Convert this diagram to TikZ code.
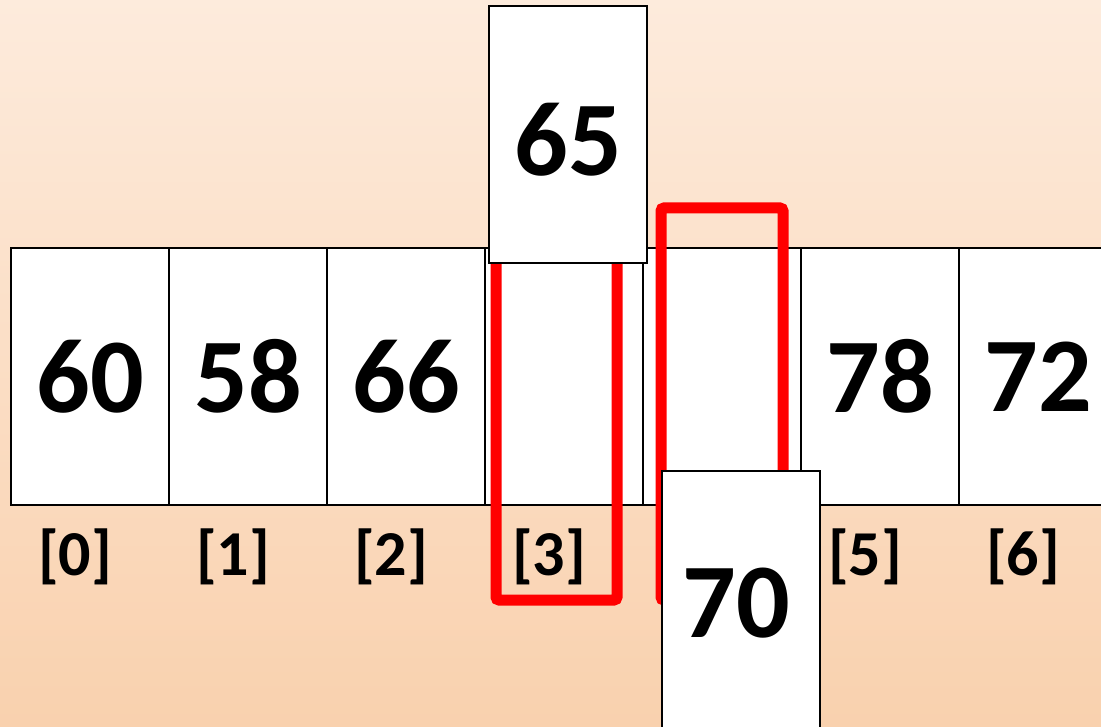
\documentclass[tikz,border=0pt]{standalone}
\usepackage{fontspec}
\setmainfont{Carlito}
\definecolor{peachtop}{RGB}{253,235,220}
\definecolor{peachbot}{RGB}{249,209,174}
\definecolor{slotred}{RGB}{255,0,0}

\begin{document}
\begin{tikzpicture}[x=1pt, y=-1pt,
cell/.style={draw=black, fill=white, line width=1.6pt, inner sep=0pt,
minimum width=158pt, minimum height=257pt,
font=\fontsize{106}{106}\selectfont\bfseries},
card/.style={cell, line width=2pt},
idx/.style={inner sep=0pt, font=\fontsize{64}{64}\selectfont\bfseries},
hilite/.style={draw=slotred, line width=11pt, rounded corners=3pt}
]

\useasboundingbox (0,0) rectangle (1101,727);
\clip (0,0) rectangle (1101,727);
\fill[top color=peachtop, bottom color=peachbot] (0,0) rectangle (1101,727);

% array slots
\node[cell] (c0) at (90,376.5) {60};
\node[cell] (c1) at (248,376.5) {58};
\node[cell] (c2) at (406,376.5) {66};
\node[cell] (c3) at (564,376.5) {};
\node[cell] (c4) at (722,376.5) {};
\node[cell] (c5) at (880,376.5) {78};
\node[cell] (c6) at (1038,376.5) {72};

% indices
\node[idx] (i0) at (75,557) {[0]};
\node[idx] (i1) at (233,557) {[1]};
\node[idx] (i2) at (391,557) {[2]};
\node[idx] (i3) at (549,557) {[3]};
\node[idx] (i5) at (865,557) {[5]};
\node[idx] (i6) at (1023,557) {[6]};

% gap being filled
\draw[hilite] (496,240) rectangle (617,600);
\node[card] (k65) at (568,134.5) {\raisebox{-5pt}[\height][0pt]{65}};

\draw[hilite] (661,208) rectangle (783,600);
\node[card] (k70) at (741,599.5) {\hspace*{-10pt}\raisebox{-3pt}[\height][0pt]{70}};

\end{tikzpicture}
\end{document}
